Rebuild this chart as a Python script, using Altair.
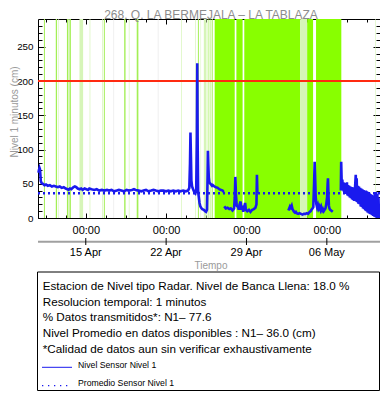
import altair as alt
import pandas as pd

# ---------------- data ----------------
TITLE = "268. Q. LA BERMEJALA – LA TABLAZA"
Y_TITLE = "Nivel 1 minutos (cm)"
X_TITLE = "Tiempo"
DAY0 = "2023-04-15"          # day 0 = 15 Apr 00:00 (UTC)

x_start_day = -4.162
x_end_day = 25.632
y_min, y_max = 0, 290.6

banca_llena = 200            # red line
nivel_promedio = 36.0        # dotted mean line

y_tick_labels = [0, 50, 100, 150, 200, 250]
date_tick_days = [0, 7, 14, 21]
date_tick_labels = ["15 Apr", "22 Apr", "29 Apr", "06 May"]

info_lines = [
    "Estacion de Nivel tipo Radar. Nivel de Banca Llena: 18.0 %",
    "Resolucion temporal: 1 minutos",
    "% Datos transmitidos*: N1– 77.6",
    "Nivel Promedio en datos disponibles : N1– 36.0 (cm)",
    "*Calidad de datos aun sin verificar exhaustivamente",
]
legend_labels = ["Nivel Sensor Nivel 1", "Promedio Sensor Nivel 1"]

# shaded periods (days after 15 Apr 00:00); kind: b bright, m medium, p pale, g grey
band_start = [-3.646, -2.614, -2.382, -1.642, -1.522, -1.410, -0.550, 0.335, 1.427, 1.574,
              2.400, 3.345, 3.749, 4.437, 6.270, 8.306, 9.536, 9.768, 10.000, 10.284,
              10.628, 10.800, 10.972, 11.230, 13.121, 13.809, 18.685, 19.287, 20.060, 25.219]
band_end = [-3.560, -2.502, -2.330, -1.522, -1.410, -1.298, -0.232, 0.396, 1.488, 1.660,
            2.470, 3.465, 3.809, 4.583, 6.340, 8.366, 9.596, 9.854, 10.043, 10.516,
            10.688, 10.860, 11.058, 12.975, 13.663, 18.685, 19.287, 19.802, 22.262, 25.271]
band_kind = ["m", "m", "p", "m", "p", "m", "p", "p", "p", "m",
             "g", "m", "p", "m", "g", "p", "p", "m", "p", "p",
             "m", "m", "m", "b", "b", "b", "p", "b", "b", "p"]

# Nivel Sensor Nivel 1 (days after 15 Apr, cm), four unbroken stretches
seg1_days = [-4.12, -4.08, -4.03, -3.99, -3.95, -3.92, -3.85, -3.73, -3.60, -3.47,
             -3.30, -3.13, -2.95, -2.78, -2.61, -2.44, -2.27, -2.10, -1.92, -1.75,
             -1.60, -1.50, -1.38, -1.26, -1.15, -1.07, -0.95, -0.83, -0.70, -0.55,
             -0.40, -0.27, -0.10, 0.05, 0.20, 0.31, 0.50, 0.74, 0.95, 1.17,
             1.40, 1.60, 1.85, 2.03, 2.25, 2.46, 2.70, 2.89, 3.10, 3.32,
             3.55, 3.75, 4.01, 4.20, 4.35, 4.61, 4.85, 5.04, 5.25, 5.47,
             5.70, 5.90, 6.10, 6.33, 6.55, 6.76, 7.00, 7.19, 7.40, 7.62,
             7.85, 8.05, 8.25, 8.48, 8.70, 8.91, 9.02, 9.08, 9.12, 9.16,
             9.20, 9.26, 9.35, 9.45, 9.55, 9.62, 9.68, 9.71, 9.74, 9.79,
             9.85, 9.91, 9.98, 10.05, 10.15, 10.28, 10.40, 10.48, 10.56, 10.61,
             10.64, 10.67, 10.72, 10.77, 10.85, 10.91, 11.00, 11.06, 11.20, 11.34,
             11.49, 11.63, 11.78, 11.92, 12.02]
seg1_vals = [66, 70, 73, 71, 62, 54, 51, 50, 48, 49,
             47, 48, 46, 47, 46, 45, 46, 44, 45, 43,
             42, 41, 43, 42, 44, 45, 46, 45, 43, 42,
             43, 41, 43, 42, 41, 43, 42, 41, 42, 40,
             41, 40, 41, 40, 41, 39, 40, 41, 40, 39,
             41, 40, 41, 42, 41, 40, 39, 40, 41, 39,
             40, 41, 40, 39, 40, 40, 39, 40, 39, 40,
             39, 40, 39, 40, 39, 40, 44, 80, 125, 90,
             55, 46, 42, 38, 36, 40, 120, 226, 120, 38,
             30, 22, 17, 15, 13, 12, 10, 9, 12, 60,
             98, 80, 58, 52, 50, 49, 47, 48, 46, 45,
             44, 42, 41, 40, 38]
seg2_days = [12.06, 12.20, 12.35, 12.50, 12.63, 12.78, 12.92, 12.98, 13.03, 13.08,
             13.15, 13.27, 13.33, 13.40, 13.49, 13.56, 13.64, 13.72, 13.80, 13.88,
             13.95, 14.07, 14.21, 14.35, 14.50, 14.64, 14.78, 14.87, 14.91, 14.95]
seg2_vals = [17, 14, 15, 13, 14, 11, 14, 30, 60, 35,
             18, 16, 12, 20, 24, 12, 18, 9, 16, 22,
             12, 10, 12, 9, 12, 13, 15, 20, 63, 36]
seg3_days = [17.65, 17.72, 17.79, 17.86, 17.94, 18.01, 18.08, 18.15, 18.22, 18.30,
             18.37, 18.50, 18.62, 18.75, 18.88, 19.00, 19.14, 19.25, 19.37, 19.45,
             19.51, 19.60, 19.66, 19.75, 19.82, 19.89, 19.94, 19.98, 20.03, 20.09,
             20.16, 20.23, 20.30, 20.37, 20.45, 20.52, 20.60, 20.66, 20.73, 20.80,
             20.88, 20.95, 21.02, 21.07, 21.10, 21.14, 21.18, 21.23, 21.30, 21.38,
             21.45, 21.52]
seg3_vals = [11, 14, 17, 15, 18, 13, 11, 9, 8, 9,
             7, 6, 7, 6, 5, 6, 6, 7, 6, 8,
             9, 10, 12, 14, 16, 50, 82, 60, 31, 20,
             15, 19, 14, 17, 12, 16, 11, 13, 10, 12,
             14, 20, 30, 50, 58, 35, 18, 14, 12, 11,
             10, 9]
seg4_days = [22.22, 22.25, 22.30, 22.35, 22.40, 22.45, 22.50, 22.55, 22.60, 22.65,
             22.70, 22.75, 22.80, 22.85, 22.90, 22.95, 23.00, 23.05, 23.10, 23.15,
             23.20, 23.25, 23.30, 23.35, 23.40, 23.47, 23.52, 23.56, 23.60, 23.65,
             23.70, 23.75, 23.80, 23.85, 23.90, 23.95, 24.00, 24.05, 24.10, 24.15,
             24.20, 24.25, 24.30, 24.35, 24.40, 24.45, 24.50, 24.55, 24.60, 24.65,
             24.70, 24.75, 24.80, 24.85, 24.90, 24.95, 25.00, 25.05, 25.10, 25.15,
             25.20, 25.25, 25.30, 25.35, 25.40, 25.45, 25.50, 25.55, 25.58]
seg4_vals = [40, 82, 48, 56, 40, 52, 38, 50, 36, 51,
             35, 52, 33, 48, 32, 47, 30, 46, 29, 45,
             27, 44, 26, 45, 25, 48, 63, 24, 58, 23,
             47, 21, 46, 20, 44, 17, 43, 16, 42, 14,
             41, 13, 40, 11, 40, 10, 39, 8, 38, 7,
             37, 6, 35, 5, 34, 4, 33, 3, 31, 2,
             36, 1, 38, 0, 35, 0, 30, 0, 10]

# ---------------- helpers ----------------
FONT = "Liberation Sans"
BLUE = "#1a1aee"
W, H = 342, 199
t0 = pd.Timestamp(DAY0)


def iso(days):
    return [(t0 + pd.Timedelta(days=float(d))).strftime("%Y-%m-%dT%H:%M:%SZ") for d in days]


def dt(d):
    ts = t0 + pd.Timedelta(days=float(d))
    return alt.DateTime(year=ts.year, month=ts.month, date=ts.day,
                        hours=ts.hour, minutes=ts.minute, utc=True)


xs = alt.Scale(type="utc", domain=[dt(x_start_day), dt(x_end_day)])
ys = alt.Scale(domain=[y_min, y_max], nice=False, zero=False)

band_df = pd.DataFrame({"t0": iso(band_start), "t1": iso(band_end), "kind": band_kind})
segs = [(seg1_days, seg1_vals), (seg2_days, seg2_vals), (seg3_days, seg3_vals), (seg4_days, seg4_vals)]
line_df = pd.concat([pd.DataFrame({"t": iso(d), "v": v, "seg": i}) for i, (d, v) in enumerate(segs)])
ref_df = pd.DataFrame({"v": [banca_llena]})
mean_df = pd.DataFrame({"v": [nivel_promedio]})
date_df = pd.DataFrame({"t": iso(date_tick_days), "label": date_tick_labels})
ax_df = pd.DataFrame({"t": iso([x_start_day, x_end_day]), "v": [y_min, y_max]})
one = pd.DataFrame({"k": [0]})

major_vals = [dt(d) for d in date_tick_days]
minor_vals = [dt(-3.5 + 1.75 * k) for k in range(17)]
y_minor = list(range(0, 290, 10))

# ---------------- layers ----------------
bands = alt.Chart(band_df).mark_rect().encode(
    x=alt.X("t0:T", scale=xs, axis=None), x2="t1:T",
    y=alt.value(0), y2=alt.value(H),
    color=alt.Color("kind:N", legend=None,
                    scale=alt.Scale(domain=["b", "m", "p", "g"],
                                    range=["#88ff00", "#a3ef55", "#d6f5b8", "#ececec"])))

red = alt.Chart(ref_df).mark_rule(color="#ff2a10", strokeWidth=2).encode(
    y=alt.Y("v:Q", scale=ys, axis=None))

mean = alt.Chart(mean_df).mark_rule(color=BLUE, strokeWidth=2.5, strokeDash=[2, 3]).encode(
    y=alt.Y("v:Q", scale=ys, axis=None))

line = alt.Chart(line_df).mark_line(color=BLUE, strokeWidth=2.6).encode(
    x=alt.X("t:T", scale=xs, axis=None), y=alt.Y("v:Q", scale=ys, axis=None),
    detail="seg:N")


def axis_layer(xaxis, yaxis):
    return alt.Chart(ax_df).mark_point(opacity=0).encode(
        x=alt.X("t:T", scale=xs, axis=xaxis), y=alt.Y("v:Q", scale=ys, axis=yaxis))


hide = dict(labels=False, domain=False, title=None, grid=False)
ax1 = axis_layer(
    alt.Axis(orient="bottom", values=major_vals, format="%H:%M", tickSize=0, labelPadding=6,
             labelFontSize=11, labelColor="black", title=None, grid=False),
    alt.Axis(orient="left", values=y_tick_labels, tickSize=0, labelPadding=5,
             labelFontSize=9.8, labelColor="black", title=None, grid=False))
ax2 = axis_layer(alt.Axis(orient="bottom", offset=-5, tickSize=5, values=major_vals, **hide),
                 alt.Axis(orient="left", offset=-7, tickSize=7, values=y_tick_labels, **hide))
ax3 = axis_layer(alt.Axis(orient="bottom", offset=-3, tickSize=3, values=minor_vals, **hide),
                 alt.Axis(orient="left", offset=-4, tickSize=4, values=y_minor, **hide))
ax4 = axis_layer(alt.Axis(orient="top", labels=False, ticks=False, title=None, grid=False),
                 alt.Axis(orient="right", labels=False, ticks=False, title=None, grid=False))
ax5 = axis_layer(alt.Axis(orient="top", offset=-5, tickSize=5, values=major_vals, **hide),
                 alt.Axis(orient="right", offset=-7, tickSize=7, values=y_tick_labels, **hide))
ax6 = axis_layer(alt.Axis(orient="top", offset=-3, tickSize=3, values=minor_vals, **hide),
                 alt.Axis(orient="right", offset=-4, tickSize=4, values=y_minor, **hide))

title = alt.Chart(pd.DataFrame({"txt": [TITLE]})).mark_text(
    font=FONT, fontSize=12, color="#8c8c8c", align="center", baseline="alphabetic").encode(
    x=alt.value(173), y=alt.value(0), text="txt:N")

ytitle = alt.Chart(pd.DataFrame({"txt": [Y_TITLE]})).mark_text(
    font=FONT, fontSize=10, color="#9a9a9a", align="center", baseline="top", angle=270).encode(
    x=alt.value(-28.5), y=alt.value(93), text="txt:N")

date_line = alt.Chart(one).mark_rule(color="#a0a0a0", strokeWidth=2).encode(
    x=alt.value(0), x2=alt.value(W), y=alt.value(222.7))
date_ticks = alt.Chart(date_df).mark_rule(color="black", strokeWidth=1).encode(
    x=alt.X("t:T", scale=xs, axis=None), y=alt.value(219), y2=alt.value(226))
date_text = alt.Chart(date_df).mark_text(
    font=FONT, fontSize=11, color="black", baseline="middle").encode(
    x=alt.X("t:T", scale=xs, axis=None), y=alt.value(233.5), text="label:N")
xtitle = alt.Chart(pd.DataFrame({"txt": [X_TITLE]})).mark_text(
    font=FONT, fontSize=10, color="#9a9a9a", baseline="middle").encode(
    x=alt.value(173), y=alt.value(246.5), text="txt:N")

box = alt.Chart(one).mark_rect(fill="transparent", stroke="black", strokeWidth=1).encode(
    x=alt.value(-0.5), x2=alt.value(W - 0.5), y=alt.value(253), y2=alt.value(371.5))
info = alt.Chart(pd.DataFrame({"txt": ["\n".join(info_lines)]})).mark_text(
    font=FONT, fontSize=11.7, color="black", align="left", baseline="alphabetic",
    lineBreak="\n", lineHeight=15.6).encode(
    x=alt.value(4.7), y=alt.value(271.2), text="txt:N")
leg_solid = alt.Chart(one).mark_rule(color=BLUE, strokeWidth=1).encode(
    x=alt.value(4), x2=alt.value(34), y=alt.value(348.3))
leg_dot = alt.Chart(one).mark_rule(color=BLUE, strokeWidth=1.3, strokeDash=[1.3, 4.7]).encode(
    x=alt.value(4), x2=alt.value(34), y=alt.value(366.7))
leg_txt1 = alt.Chart(pd.DataFrame({"txt": [legend_labels[0]]})).mark_text(
    font=FONT, fontSize=8.7, color="black", align="left", baseline="middle").encode(
    x=alt.value(40), y=alt.value(346), text="txt:N")
leg_txt2 = alt.Chart(pd.DataFrame({"txt": [legend_labels[1]]})).mark_text(
    font=FONT, fontSize=8.7, color="black", align="left", baseline="middle").encode(
    x=alt.value(40), y=alt.value(364.3), text="txt:N")

chart = alt.layer(
    bands, red, mean, line,
    ax1, ax2, ax3, ax4, ax5, ax6,
    title, ytitle, date_line, date_ticks, date_text, xtitle,
    box, info, leg_solid, leg_dot, leg_txt1, leg_txt2,
).resolve_axis(x="independent", y="independent").properties(
    width=W, height=H,
    autosize=alt.AutoSizeParams(type="none"),
    padding={"left": 30, "top": 11, "right": 0, "bottom": 173},
).configure_view(stroke=None).configure_axis(
    grid=False, labelFont=FONT, titleFont=FONT, domainColor="black", tickColor="black",
    domainWidth=1, tickWidth=1)

chart.save("out.html", embed_options={"renderer": "svg", "actions": False})
